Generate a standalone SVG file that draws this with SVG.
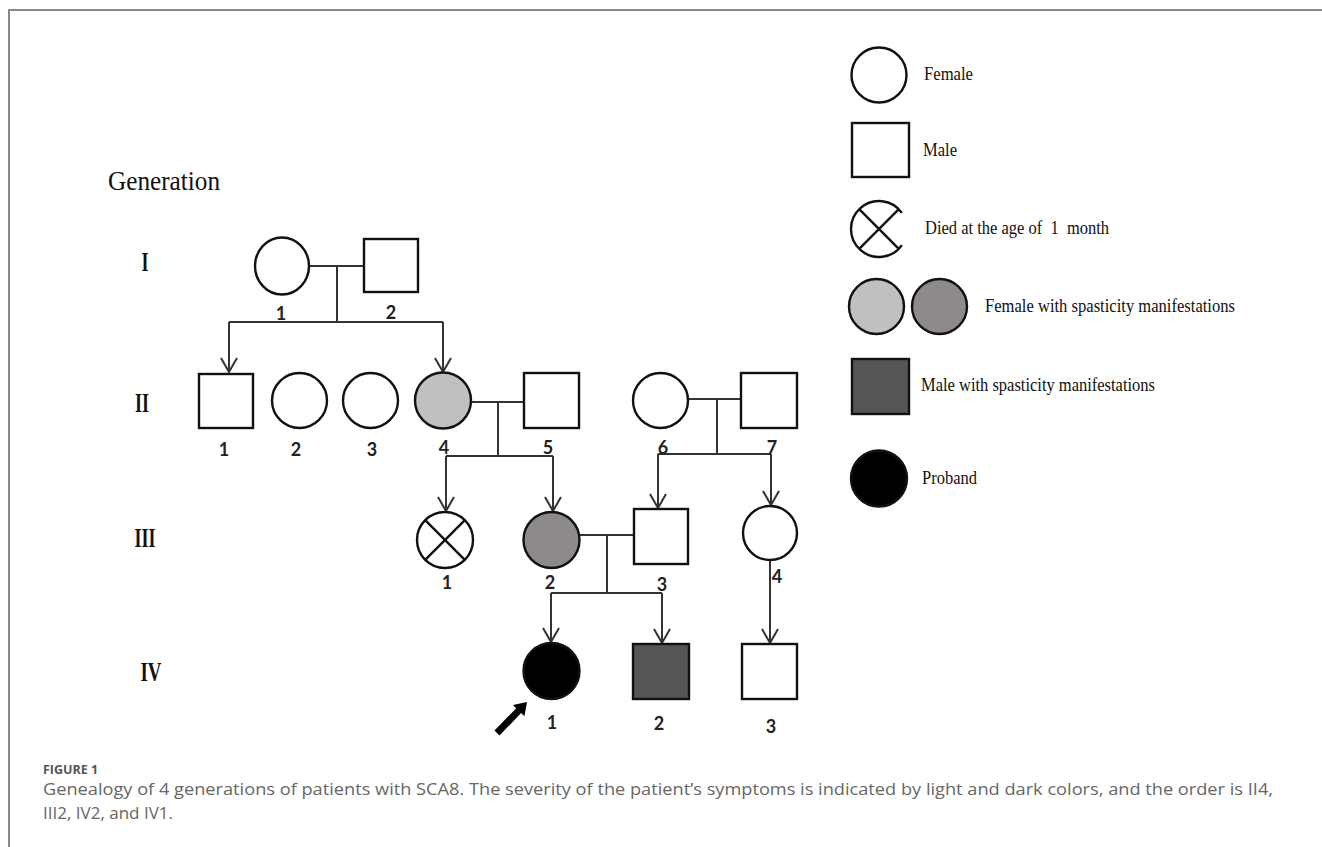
<svg xmlns="http://www.w3.org/2000/svg" width="1322" height="847" viewBox="0 0 1322 847">
<style>
.sh{stroke:#111;stroke-width:2.4;fill:#fff}
.ln{stroke:#333;stroke-width:2;fill:none}
.ar{stroke:#333;stroke-width:2;fill:none;marker-end:url(#arr)}
.num{font-family:Lato,"Open Sans",sans-serif;font-weight:bold;font-size:18px;fill:#222;text-anchor:middle}
.rom{font-family:"Liberation Serif",serif;font-weight:bold;font-size:28px;fill:#111;text-anchor:middle}
.leg{font-family:"Liberation Serif",serif;font-size:19px;fill:#111;white-space:pre}
.cap{font-family:"Open Sans",sans-serif;font-size:17px;fill:#666}
</style>
<defs>
<marker id="arr" markerUnits="userSpaceOnUse" markerWidth="20" markerHeight="20" viewBox="-16 -10 20 20" refX="0" refY="0" orient="auto">
<path d="M-14,-8 L0,0 L-14,8" fill="none" stroke="#333" stroke-width="2"/>
</marker>
</defs>
<rect width="1322" height="847" fill="#fff"/>
<path d="M9,847 V10 H1322" fill="none" stroke="#888" stroke-width="2"/>

<text x="108" y="190" font-family="Liberation Serif,serif" font-size="27" fill="#111" textLength="112" lengthAdjust="spacingAndGlyphs">Generation</text>
<text class="rom" x="145" y="271" textLength="7" lengthAdjust="spacingAndGlyphs">I</text>
<text class="rom" x="142" y="412" textLength="14" lengthAdjust="spacingAndGlyphs">II</text>
<text class="rom" x="145" y="547" textLength="21" lengthAdjust="spacingAndGlyphs">III</text>
<text class="rom" x="151" y="681" textLength="21" lengthAdjust="spacingAndGlyphs">IV</text>

<g id="connectors">
<path class="ln" d="M308,266 H364 M337,266 V322 M229,322 H443"/>
<path class="ar" d="M229,322 V372"/>
<path class="ar" d="M443,322 V372"/>
<path class="ln" d="M471,402 H524 M498,402 V456 M446,456 H553"/>
<path class="ar" d="M446,456 V511"/>
<path class="ar" d="M553,456 V511"/>
<path class="ln" d="M688,399 H741 M717,399 V454 M658,454 H771"/>
<path class="ar" d="M658,454 V508"/>
<path class="ar" d="M771,454 V505"/>
<path class="ln" d="M579,535 H634 M607,535 V593 M551,593 H662"/>
<path class="ar" d="M551,593 V642"/>
<path class="ar" d="M662,593 V643"/>
<path class="ar" d="M770,561 V643"/>
</g>

<g id="I-1"><ellipse class="sh" cx="282" cy="266" rx="27" ry="28.5"/><text class="num" x="281" y="320">1</text></g>
<g id="I-2"><rect class="sh" x="364" y="239" width="54" height="53"/><text class="num" x="391" y="319">2</text></g>

<g id="II-1"><rect class="sh" x="199" y="374" width="54" height="54"/><text class="num" x="224" y="456">1</text></g>
<g id="II-2"><circle class="sh" cx="299.5" cy="400.5" r="27.5"/><text class="num" x="296" y="456">2</text></g>
<g id="II-3"><circle class="sh" cx="370.5" cy="400.5" r="27.5"/><text class="num" x="372" y="456">3</text></g>
<g id="II-4"><circle class="sh" cx="443" cy="400.5" r="28" style="fill:#c0c0c0"/><text class="num" x="444" y="454">4</text></g>
<g id="II-5"><rect class="sh" x="524" y="373" width="55" height="55"/><text class="num" x="548" y="454">5</text></g>
<g id="II-6"><circle class="sh" cx="660.5" cy="400.5" r="27.5"/><text class="num" x="663" y="454">6</text></g>
<g id="II-7"><rect class="sh" x="741" y="373" width="56" height="55"/><text class="num" x="772" y="454">7</text></g>

<g id="III-1"><circle class="sh" cx="445" cy="540" r="28"/><path class="sh" d="M425.2,520.2 L464.8,559.8 M464.8,520.2 L425.2,559.8"/><text class="num" x="447" y="589">1</text></g>
<g id="III-2"><circle class="sh" cx="551.5" cy="540" r="28" style="fill:#8e8a8a"/><text class="num" x="550" y="589">2</text></g>
<g id="III-3"><rect class="sh" x="634" y="509" width="54" height="55"/><text class="num" x="662" y="591">3</text></g>
<g id="III-4"><circle class="sh" cx="770" cy="533" r="27"/><text class="num" x="777" y="583">4</text></g>

<g id="IV-1"><circle class="sh" cx="551.5" cy="671" r="28" style="fill:#000"/><text class="num" x="552" y="729">1</text>
<polygon points="527,702 524.4,716.2 521.2,713 499.5,735.4 494.5,730.6 516.2,708.2 513,705" fill="#000"/></g>
<g id="IV-2"><rect class="sh" x="633" y="644" width="56" height="55" style="fill:#555"/><text class="num" x="659" y="730">2</text></g>
<g id="IV-3"><rect class="sh" x="742" y="644" width="55" height="55"/><text class="num" x="771" y="733">3</text></g>

<g id="legend">
<g id="leg-female"><circle class="sh" cx="879" cy="75" r="27.5"/><text class="leg" x="924" y="80" textLength="49" lengthAdjust="spacingAndGlyphs">Female</text></g>
<g id="leg-male"><rect class="sh" x="852" y="123" width="57" height="54"/><text class="leg" x="923" y="156" textLength="34" lengthAdjust="spacingAndGlyphs">Male</text></g>
<g id="leg-died"><path class="sh" d="M901.9,212.9 A28 28 0 1 0 901.9,245.1 M859.2,209.2 L898.8,248.8 M898.8,209.2 L859.2,248.8" style="fill:none"/><text class="leg" x="925" y="234" textLength="184" lengthAdjust="spacingAndGlyphs">Died at the age of  1  month</text></g>
<g id="leg-female-sp"><circle class="sh" cx="876.5" cy="306.5" r="27.5" style="fill:#c0c0c0"/><circle class="sh" cx="939.5" cy="306.5" r="27.5" style="fill:#8e8a8a"/><text class="leg" x="985" y="312" textLength="250" lengthAdjust="spacingAndGlyphs">Female with spasticity manifestations</text></g>
<g id="leg-male-sp"><rect class="sh" x="852" y="359" width="57" height="55" style="fill:#555"/><text class="leg" x="921" y="391" textLength="234" lengthAdjust="spacingAndGlyphs">Male with spasticity manifestations</text></g>
<g id="leg-proband"><circle class="sh" cx="879" cy="478.5" r="28" style="fill:#000"/><text class="leg" x="922" y="484" textLength="55" lengthAdjust="spacingAndGlyphs">Proband</text></g>
</g>

<g id="caption">
<text x="43" y="774" font-family="Open Sans,sans-serif" font-weight="bold" font-size="12.5" fill="#555">FIGURE 1</text>
<text class="cap" x="43" y="795" textLength="1230" lengthAdjust="spacingAndGlyphs">Genealogy of 4 generations of patients with SCA8. The severity of the patient’s symptoms is indicated by light and dark colors, and the order is II4,</text>
<text class="cap" x="43" y="819">III2, IV2, and IV1.</text>
</g>
</svg>
